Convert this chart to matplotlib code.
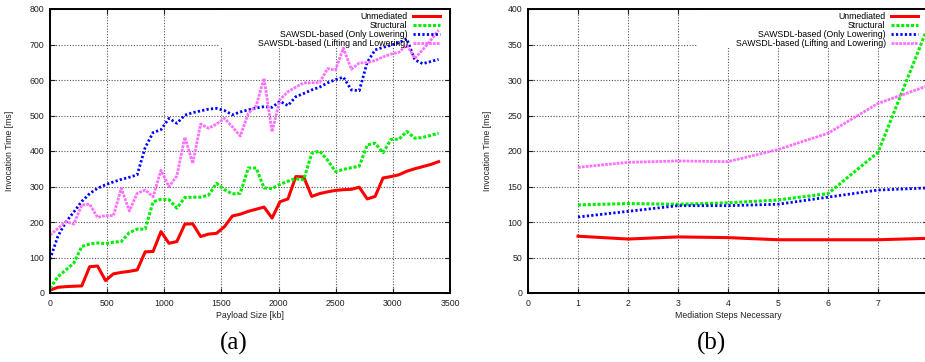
import matplotlib
matplotlib.use("Agg")
import matplotlib.pyplot as plt
from matplotlib.patches import Rectangle

plt.rcParams['font.family'] = ['Liberation Sans', 'DejaVu Sans']

# (a) invocation time vs payload size
payload_kb = [0, 69, 139, 208, 278, 347, 416, 486, 555, 624,
              694, 763, 833, 902, 971, 1041, 1110, 1180, 1249, 1318,
              1388, 1457, 1527, 1596, 1665, 1735, 1804, 1873, 1943, 2012,
              2082, 2151, 2220, 2290, 2359, 2429, 2498, 2567, 2637, 2706,
              2776, 2845, 2914, 2984, 3053, 3122, 3192, 3261, 3331, 3400]
unmediated_a = [8, 16, 18, 19, 20, 74, 76, 35, 54, 58,
                61, 65, 116, 117, 173, 140, 145, 194, 195, 159,
                166, 168, 187, 217, 222, 230, 236, 242, 211, 257,
                265, 328, 327, 272, 280, 285, 289, 291, 292, 298,
                265, 272, 324, 328, 333, 343, 350, 356, 362, 370]
structural_a = [13, 46, 65, 84, 131, 138, 141, 139, 143, 145,
                170, 180, 180, 257, 264, 263, 239, 269, 270, 270,
                276, 309, 291, 279, 281, 352, 352, 296, 294, 306,
                315, 322, 319, 393, 400, 374, 342, 348, 353, 357,
                417, 422, 395, 433, 433, 455, 436, 438, 444, 450]
lowering_a = [95, 160, 200, 228, 258, 280, 295, 305, 313, 320,
              326, 333, 410, 452, 460, 492, 478, 501, 508, 513,
              518, 520, 514, 502, 510, 516, 521, 525, 523, 540,
              528, 553, 562, 572, 580, 592, 601, 608, 572, 570,
              650, 685, 692, 698, 705, 716, 657, 646, 652, 658]
lifting_a = [163, 182, 201, 194, 248, 250, 213, 218, 218, 295,
             231, 281, 290, 271, 346, 299, 330, 439, 365, 476,
             464, 476, 492, 468, 442, 506, 527, 605, 454, 545,
             567, 580, 592, 592, 593, 632, 628, 690, 630, 648,
             649, 655, 665, 673, 678, 698, 661, 685, 712, 740]

# (b) invocation time vs mediation steps
steps = [1, 2, 3, 4, 5, 6, 7, 8]
unmediated_b = [80, 76, 79, 78, 75, 75, 75, 77]
structural_b = [124, 126, 125, 127, 131, 140, 198, 375]
lowering_b = [107, 115, 123, 123, 125, 135, 145, 148]
lifting_b = [177, 184, 186, 185, 202, 225, 267, 292]

labels = ['Unmediated', 'Structural', 'SAWSDL-based (Only Lowering)',
          'SAWSDL-based (Lifting and Lowering)']
styles = [dict(color='#ff0000', lw=2.2, linestyle='-'),
          dict(color='#00ee00', lw=2.2, linestyle=(0, (1, 0.6))),
          dict(color='#0000ff', lw=2.0, linestyle=(0, (0.8, 0.8))),
          dict(color='#ff70ff', lw=2.0, linestyle=(0, (1, 0.4)))]

fs = 6.3
fig = plt.figure(figsize=(9.25, 3.62), dpi=100)
ax_a = fig.add_axes([50 / 925, 69 / 362, 400 / 925, 284 / 362])
ax_b = fig.add_axes([528 / 925, 69 / 362, 400 / 925, 284 / 362])


def style_axes(ax, xmax, xstep, ymax, ystep, xlabel):
    ax.set_xlim(0, xmax)
    ax.set_ylim(0, ymax)
    ax.set_xticks(range(0, xmax + 1, xstep))
    ax.set_yticks(range(0, ymax + 1, ystep))
    ax.set_axisbelow(True)
    ax.grid(True, color='#555555', lw=0.8, linestyle=(0, (1, 1.5)))
    ax.tick_params(direction='in', top=True, right=True, length=3.5,
                   width=0.8, labelsize=fs, pad=4, colors='#222222')
    for s in ax.spines.values():
        s.set_linewidth(1.4)
    ax.set_xlabel(xlabel, fontsize=fs, color='#222222')
    ax.xaxis.set_label_coords(0.5, -0.063)
    ax.set_ylabel('Invocation Time [ms]', fontsize=fs, color='#222222')
    ax.yaxis.set_label_coords(-0.09, 0.5)
    # white key box, drawn above the grid but below the lines
    ax.add_patch(Rectangle((0.425, 0.863), 0.575, 0.137, transform=ax.transAxes,
                           facecolor='white', edgecolor='none', zorder=1))


style_axes(ax_a, 3500, 500, 800, 100, 'Payload Size [kb]')
style_axes(ax_b, 8, 1, 400, 50, 'Mediation Steps Necessary')
# the "8" label falls outside the page in the original, so leave it blank
ax_b.set_xticklabels([str(i) for i in range(8)] + [''])

for ys, lab, st in zip([unmediated_a, structural_a, lowering_a, lifting_a], labels, styles):
    ax_a.plot(payload_kb, ys, label=lab, zorder=2, **st)
for ys, lab, st in zip([unmediated_b, structural_b, lowering_b, lifting_b], labels, styles):
    ax_b.plot(steps, ys, label=lab, zorder=2, **st)

for ax in (ax_a, ax_b):
    ax.legend(loc='upper right', bbox_to_anchor=(0.975, 0.99), frameon=False,
              markerfirst=False, fontsize=fs, labelspacing=0.0,
              handlelength=3.1, handletextpad=0.6, borderpad=0, borderaxespad=0)

fig.text(234 / 925, 1 - 343.5 / 362, '(a)', ha='center', va='center',
         fontsize=18, family='Liberation Serif')
fig.text(712 / 925, 1 - 343.5 / 362, '(b)', ha='center', va='center',
         fontsize=18, family='Liberation Serif')

fig.savefig('out.png', dpi=100)
